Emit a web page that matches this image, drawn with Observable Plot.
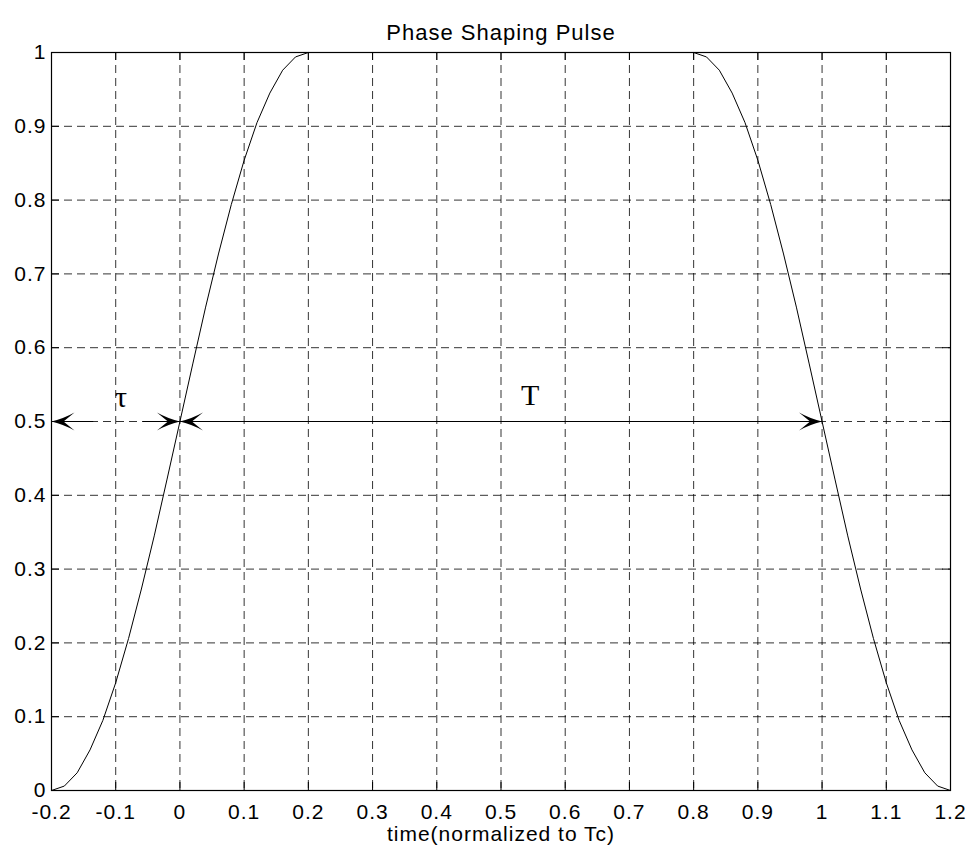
<!DOCTYPE html>
<html><head><meta charset="utf-8">
<script src="https://cdn.jsdelivr.net/npm/d3@7"></script>
<script src="https://cdn.jsdelivr.net/npm/@observablehq/plot@0.6"></script>
<style>body{margin:0;background:#fff}</style>
</head><body><div id="chart"></div>
<script>
const chartTitle = "Phase Shaping Pulse";
const xLabel = "time(normalized to Tc)";
const xTicks = [-0.2, -0.1, 0, 0.1, 0.2, 0.3, 0.4, 0.5, 0.6, 0.7, 0.8, 0.9, 1, 1.1, 1.2];
const yTicks = [0, 0.1, 0.2, 0.3, 0.4, 0.5, 0.6, 0.7, 0.8, 0.9, 1];

const timeValues = [
  -0.2, -0.18, -0.16, -0.14, -0.12, -0.1, -0.08, -0.06, -0.04, -0.02,
  0, 0.02, 0.04, 0.06, 0.08, 0.1, 0.12, 0.14, 0.16, 0.18,
  0.2, 0.22, 0.24, 0.26, 0.28, 0.3, 0.32, 0.34, 0.36, 0.38,
  0.4, 0.42, 0.44, 0.46, 0.48, 0.5, 0.52, 0.54, 0.56, 0.58,
  0.6, 0.62, 0.64, 0.66, 0.68, 0.7, 0.72, 0.74, 0.76, 0.78,
  0.8, 0.82, 0.84, 0.86, 0.88, 0.9, 0.92, 0.94, 0.96, 0.98,
  1, 1.02, 1.04, 1.06, 1.08, 1.1, 1.12, 1.14, 1.16, 1.18, 1.2
];
const pulseValues = [
  0, 0.006, 0.024, 0.055, 0.095, 0.146, 0.206, 0.273, 0.345, 0.422,
  0.5, 0.578, 0.655, 0.727, 0.794, 0.854, 0.905, 0.945, 0.976, 0.994,
  1, 1, 1, 1, 1, 1, 1, 1, 1, 1,
  1, 1, 1, 1, 1, 1, 1, 1, 1, 1,
  1, 1, 1, 1, 1, 1, 1, 1, 1, 1,
  1, 0.994, 0.976, 0.945, 0.905, 0.854, 0.794, 0.727, 0.655, 0.578,
  0.5, 0.422, 0.345, 0.273, 0.206, 0.146, 0.095, 0.055, 0.024, 0.006, 0
];

// annotation arrows (data units)
const arrowFrom = [-0.135, -0.058, 0];
const arrowTo = [-0.2, 0, 1];
const arrowLevel = 0.5;
const headAt = [-0.2, 0, 0, 1];
const headDirection = ["left", "right", "left", "right"];
const annotationText = ["τ", "T"];
const annotationX = [-0.091, 0.546];
const annotationY = [0.532, 0.536];

const W = 976, H = 855, mL = 51, mR = 26, mT = 52, mB = 65;
const innerW = W - mL - mR, innerH = H - mT - mB;

const pulse = timeValues.map((t, i) => ({t, v: pulseValues[i]}));
const segments = arrowFrom.map((a, i) => ({x1: a, x2: arrowTo[i], y: arrowLevel}));
const heads = headAt.map((x, i) => ({x, y: arrowLevel, angle: headDirection[i] === "left" ? 180 : 0}));
const labels = annotationText.map((s, i) => ({s, x: annotationX[i], y: annotationY[i]}));

const arrowHead = {
  draw(ctx) {
    const L = 23, w = 9, n = 12;
    ctx.moveTo(0, 0);
    ctx.quadraticCurveTo(-L * 0.55, -w * 0.35, -L, -w);
    ctx.lineTo(-n, 0);
    ctx.lineTo(-L, w);
    ctx.quadraticCurveTo(-L * 0.55, w * 0.35, 0, 0);
    ctx.closePath();
  }
};

const fmt = d => String(d);

const chart = Plot.plot({
  width: W, height: H,
  marginLeft: mL, marginRight: mR, marginTop: mT, marginBottom: mB,
  style: {fontFamily: "'Liberation Sans', Arial, sans-serif", fontSize: "21px", background: "#fff", color: "#000", letterSpacing: "1px"},
  x: {domain: [-0.2, 1.2]},
  y: {domain: [0, 1]},
  marks: [
    Plot.gridX(xTicks, {stroke: "#000", strokeOpacity: 0.8, strokeDasharray: "8,5", strokeWidth: 1}),
    Plot.gridY(yTicks, {stroke: "#000", strokeOpacity: 0.8, strokeDasharray: "8,5", strokeWidth: 1}),
    Plot.ruleX(xTicks, {x: d => d, insetTop: innerH - 8, stroke: "#000"}),
    Plot.ruleX(xTicks, {x: d => d, insetBottom: innerH - 8, stroke: "#000"}),
    Plot.ruleY(yTicks, {y: d => d, insetRight: innerW - 8, stroke: "#000"}),
    Plot.ruleY(yTicks, {y: d => d, insetLeft: innerW - 8, stroke: "#000"}),
    Plot.axisX(xTicks, {tickSize: 0, tickPadding: 14, tickFormat: fmt, fontSize: 21, label: null}),
    Plot.axisY(yTicks, {tickSize: 0, tickPadding: 5, tickFormat: fmt, fontSize: 21, label: null}),
    Plot.frame({stroke: "#000", strokeWidth: 1.2}),
    Plot.line(pulse, {x: "t", y: "v", stroke: "#000", strokeWidth: 1}),
    Plot.link(segments, {x1: "x1", x2: "x2", y1: "y", y2: "y", stroke: "#000", strokeWidth: 1.2}),
    Plot.dot(heads, {x: "x", y: "y", rotate: "angle", symbol: arrowHead, fill: "#000", stroke: "none", r: 5}),
    Plot.text(labels, {x: "x", y: "y", text: "s", fontFamily: "'Liberation Serif', 'Times New Roman', serif", fontSize: 30, fill: "#000", style: "letter-spacing:0"}),
    Plot.text([chartTitle], {frameAnchor: "top", dy: -28, fontSize: 22, fill: "#000"}),
    Plot.text([xLabel], {frameAnchor: "bottom", dy: 50, fontSize: 21, fill: "#000"})
  ]
});
document.getElementById("chart").appendChild(chart);
</script>
</body></html>
